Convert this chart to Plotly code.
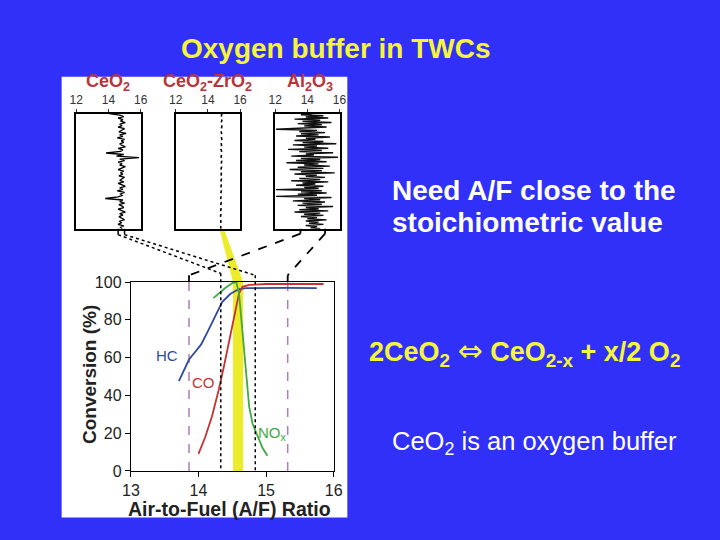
import plotly.graph_objects as go

# ---------------- data ----------------
hc_x = [13.71, 13.80, 13.86, 13.95, 14.04, 14.14, 14.23, 14.35, 14.47, 14.59, 14.70, 14.9, 15.3, 15.75]
hc_y = [47.5, 54, 59, 63, 67, 74, 81, 89.4, 93.7, 96.2, 96.8, 96.9, 96.9, 96.8]

co_x = [14.0, 14.1, 14.2, 14.3, 14.38, 14.45, 14.5, 14.55, 14.6, 14.65, 14.75, 15.0, 15.5, 15.85]
co_y = [9, 18, 29, 43, 56, 68, 78, 86, 94, 97.5, 98.5, 99, 99.2, 99]

nox_x = [14.22, 14.3, 14.4, 14.5, 14.56, 14.6, 14.63, 14.66, 14.69, 14.72, 14.75, 14.8, 14.88, 14.95, 15.02]
nox_y = [91.5, 94, 97, 99.5, 100, 94, 82, 70, 58, 45, 34, 25, 18, 12, 8]

x_ticks = [13, 14, 15, 16]
y_ticks = [0, 20, 40, 60, 80, 100]
panel_ticks = [12, 14, 16]

ceo2_trace = [14.05, 14.7, 14.95, 14.6, 14.9, 14.75, 15.05, 14.7, 14.85, 14.6, 15.0, 14.8,
              14.65, 15.1, 14.7, 14.9, 14.55, 15.0, 14.8, 14.95, 14.7, 14.85, 15.05, 14.6,
              14.9, 14.75, 13.85, 14.95, 14.5, 15.9, 14.7, 15.0, 14.6, 14.85, 14.7, 15.05,
              14.8, 14.6, 14.95, 14.75, 14.9, 14.65, 15.0, 14.8, 14.7, 14.95, 14.6, 14.85,
              15.05, 14.7, 14.9, 14.55, 15.0, 14.75, 14.85, 14.6, 13.8, 14.9, 14.7, 15.0,
              14.65, 14.85, 14.95, 14.6, 14.8, 15.05, 14.7, 14.9, 14.65, 14.85, 15.0, 14.7,
              14.8, 14.6, 14.95, 14.75, 14.85]

cezr_trace = [14.86, 14.84, 14.88, 14.83, 14.87, 14.85, 14.82, 14.86, 14.84, 14.87, 14.83,
              14.85, 14.81, 14.86, 14.84, 14.82, 14.86, 14.83, 14.85, 14.81, 14.84, 14.82,
              14.85, 14.8, 14.83, 14.81, 14.84, 14.8, 14.82, 14.79, 14.83, 14.8, 14.82,
              14.79, 14.81, 14.78, 14.8, 14.79, 14.8, 14.8]

al2o3_trace = [14.3, 13.6, 15.0, 13.9, 15.3, 13.2, 14.8, 13.7, 15.5, 13.4, 14.9, 13.8, 15.2,
               12.9, 12.05, 14.6, 13.5, 15.1, 13.6, 14.7, 13.3, 15.4, 13.9, 14.5, 13.2, 15.0,
               13.7, 15.8, 13.1, 14.6, 13.8, 15.3, 12.8, 14.9, 13.5, 15.6, 13.9, 14.4, 13.0,
               15.9, 13.6, 14.8, 13.3, 15.2, 12.7, 14.7, 13.8, 15.4, 13.4, 15.0, 12.9, 14.9,
               13.6, 15.7, 13.2, 14.6, 13.9, 15.1, 13.5, 14.8, 13.0, 15.3, 13.7, 14.5, 13.3,
               15.0, 13.8, 14.7, 12.05, 14.9, 13.6, 15.2, 13.4, 14.6, 12.05, 15.5, 13.8, 14.8,
               13.1, 15.1, 13.7, 14.9, 13.4, 15.6, 13.9, 14.7, 13.5, 15.3, 13.2, 14.8, 13.8,
               15.0, 13.6, 14.6, 14.0, 15.2, 13.9, 14.7, 14.1, 15.0, 13.9, 14.6, 14.2, 14.8]

# ---------------- geometry helpers (pixel -> paper) ----------------
W, H = 720, 540
BLUE = "#3030F8"
FONT = "Liberation Sans, Arial, sans-serif"

MAIN_X = (125, 333)
MAIN_Y = (283, 478)
PANEL_X = [(69, 135), (171, 237), (273, 339)]
PANEL_Y = (109, 228)


def px(x):
    return x / W


def py(y):
    return 1 - y / H


def main_xp(v):
    return px(MAIN_X[0] + (v - 13) / 3 * (MAIN_X[1] - MAIN_X[0]))


def panel_xp(i, v):
    a, b = PANEL_X[i]
    return px(a + (v - 12) / 4 * (b - a))


fig = go.Figure()

# main curves
fig.add_trace(go.Scatter(x=hc_x, y=hc_y, mode="lines", line=dict(color="#2F4A9E", width=1.8),
                         xaxis="x", yaxis="y", hoverinfo="skip"))
fig.add_trace(go.Scatter(x=co_x, y=co_y, mode="lines", line=dict(color="#C8322E", width=1.8),
                         xaxis="x", yaxis="y", hoverinfo="skip"))
fig.add_trace(go.Scatter(x=nox_x, y=nox_y, mode="lines", line=dict(color="#3FAA3F", width=1.8),
                         xaxis="x", yaxis="y", hoverinfo="skip"))

# panel traces
for i, (vals, dash, w, col) in enumerate([
        (ceo2_trace, "solid", 1.3, "black"),
        (cezr_trace, "dot", 1.6, "black"),
        (al2o3_trace, "solid", 1.4, "#111111")]):
    fig.add_trace(go.Scatter(x=vals, y=list(range(len(vals))), mode="lines",
                             line=dict(color=col, width=w, dash=dash),
                             xaxis="x%d" % (i + 2), yaxis="y%d" % (i + 2), hoverinfo="skip"))

layout_axes = {}
layout_axes["xaxis"] = dict(domain=[px(MAIN_X[0]), px(MAIN_X[1])], range=[13, 16], tickvals=x_ticks,
                            ticks="outside", ticklen=5, tickcolor="black", showline=True,
                            linecolor="black", linewidth=1.2, mirror=True, showgrid=False,
                            zeroline=False, tickfont=dict(size=16, color="#222", family=FONT),
                            anchor="y")
layout_axes["yaxis"] = dict(domain=[py(MAIN_Y[1]), py(MAIN_Y[0])], range=[0, 100], tickvals=y_ticks,
                            ticks="outside", ticklen=5, tickcolor="black", showline=True,
                            linecolor="black", linewidth=1.2, mirror=True, showgrid=False,
                            zeroline=False, tickfont=dict(size=16, color="#222", family=FONT),
                            anchor="x")
for i in range(3):
    n = [len(ceo2_trace), len(cezr_trace), len(al2o3_trace)][i]
    layout_axes["xaxis%d" % (i + 2)] = dict(
        domain=[px(PANEL_X[i][0]), px(PANEL_X[i][1])], range=[12, 16], tickvals=panel_ticks,
        side="top", ticks="outside", ticklen=3, tickcolor="#333", showline=True,
        linecolor="black", linewidth=1.5, mirror=True, showgrid=False, zeroline=False,
        tickfont=dict(size=12, color="#333", family=FONT), anchor="y%d" % (i + 2))
    layout_axes["yaxis%d" % (i + 2)] = dict(
        domain=[py(PANEL_Y[1]), py(PANEL_Y[0])], range=[n - 1, 0], showticklabels=False,
        ticks="", showline=True, linecolor="black", linewidth=1.5, mirror=True,
        showgrid=False, zeroline=False, anchor="x%d" % (i + 2))

shapes = []
# white panel behind the figure
shapes.append(dict(type="rect", xref="paper", yref="paper", x0=px(54), x1=px(347), y0=py(526),
                   y1=py(71), fillcolor="white", line=dict(width=0), layer="below"))
# yellow band: diagonal part outside the plot
pb = PANEL_Y[1]
yellow_path = "M %f %f L %f %f L %f %f L %f %f Z" % (
    panel_xp(1, 14.72), py(pb), panel_xp(1, 15.0), py(pb),
    main_xp(14.66), py(MAIN_Y[0]), main_xp(14.51), py(MAIN_Y[0]))
shapes.append(dict(type="path", xref="paper", yref="paper", path=yellow_path,
                   fillcolor="#ECEC2A", line=dict(width=0), layer="below"))
# yellow band inside plot
shapes.append(dict(type="rect", xref="x", yref="y", x0=14.51, x1=14.66, y0=0, y1=100,
                   fillcolor="#ECEC2A", line=dict(width=0), layer="below"))
# purple dashed windows
for v in [13.86, 15.32]:
    shapes.append(dict(type="line", xref="x", yref="y", x0=v, x1=v, y0=0, y1=100,
                       line=dict(color="#B27AB8", width=1.5, dash="dash"), layer="below"))
# black dotted window from CeO2
for v, ytop in [(14.33, 274), (14.84, 276)]:
    shapes.append(dict(type="line", xref="x", yref="paper", x0=v, x1=v, y0=py(ytop), y1=py(MAIN_Y[1]),
                       line=dict(color="black", width=1.5, dash="dot")))
# black dashed ticks above plot for Al2O3 window
for v in [13.86, 15.32]:
    shapes.append(dict(type="line", xref="x", yref="paper", x0=v, x1=v, y0=py(276), y1=py(MAIN_Y[0]),
                       line=dict(color="black", width=1.8)))

# connectors: CeO2 panel -> dotted lines
for pv, mv, ytop in [(14.6, 14.33, 274), (15.0, 14.84, 276)]:
    shapes.append(dict(type="line", xref="paper", yref="paper", x0=panel_xp(0, pv), x1=panel_xp(0, pv),
                       y0=py(pb), y1=py(234), line=dict(color="black", width=1.5)))
    shapes.append(dict(type="line", xref="paper", yref="paper", x0=panel_xp(0, pv), x1=main_xp(mv),
                       y0=py(234), y1=py(ytop), line=dict(color="black", width=1.5, dash="dot")))
# connectors: Al2O3 panel -> dashed lines
for pv, mv in [(13.57, 13.86), (15.1, 15.32)]:
    shapes.append(dict(type="line", xref="paper", yref="paper", x0=panel_xp(2, pv), x1=panel_xp(2, pv),
                       y0=py(pb), y1=py(233), line=dict(color="black", width=1.8)))
    shapes.append(dict(type="line", xref="paper", yref="paper", x0=panel_xp(2, pv), x1=main_xp(mv),
                       y0=py(233), y1=py(276), line=dict(color="black", width=1.8, dash="dash")))


def ann(text, x, y, size, color, xanchor="center", **kw):
    return dict(text=text, x=px(x), y=py(y), xref="paper", yref="paper", xanchor=xanchor,
                yanchor="middle", showarrow=False, font=dict(size=size, color=color, family=FONT), **kw)


RED = "#B8343A"
YEL = "#F5F53A"
annotations = [
    ann("<b>Oxygen buffer in TWCs</b>", 335, 42, 28, YEL),
    ann("<b>CeO<sub>2</sub></b>", 102, 77, 18, RED),
    ann("<b>CeO<sub>2</sub>-ZrO<sub>2</sub></b>", 204, 77, 18, RED),
    ann("<b>Al<sub>2</sub>O<sub>3</sub></b>", 309, 77, 18, RED),
    ann("<b>Conversion (%)</b>", 82, 378, 19, "#222", textangle=-90),
    ann("<b>Air-to-Fuel (A/F) Ratio</b>", 226, 517, 19.5, "#222"),
    dict(text="HC", x=13.53, y=61, xref="x", yref="y", showarrow=False,
         font=dict(size=15, color="#2F4A9E", family=FONT)),
    dict(text="CO", x=14.08, y=47, xref="x", yref="y", showarrow=False,
         font=dict(size=15, color="#C8322E", family=FONT)),
    dict(text="NO<sub>x</sub>", x=15.1, y=20, xref="x", yref="y", showarrow=False,
         font=dict(size=15, color="#3FAA3F", family=FONT)),
    ann("<b>Need A/F close to the</b>", 391, 188, 28, "white", xanchor="left"),
    ann("<b>stoichiometric value</b>", 391, 221, 28, "white", xanchor="left"),
    ann("<b>2CeO<sub>2</sub> <span style='font-family:DejaVu Sans;font-size:30px;font-weight:normal'>⇔</span> "
        "CeO<sub>2-x</sub> + x/2 O<sub>2</sub></b>", 367, 355, 27, YEL, xanchor="left"),
    ann("CeO<sub>2</sub> is an oxygen buffer", 391, 449, 25.5, "white", xanchor="left"),
]

fig.update_layout(
    width=W, height=H, margin=dict(l=0, r=0, t=0, b=0),
    paper_bgcolor=BLUE, plot_bgcolor="white", showlegend=False,
    shapes=shapes, annotations=annotations, **layout_axes)

fig.write_html("out.html", config={"displayModeBar": False},
               post_script="document.body.style.margin='0px';")
